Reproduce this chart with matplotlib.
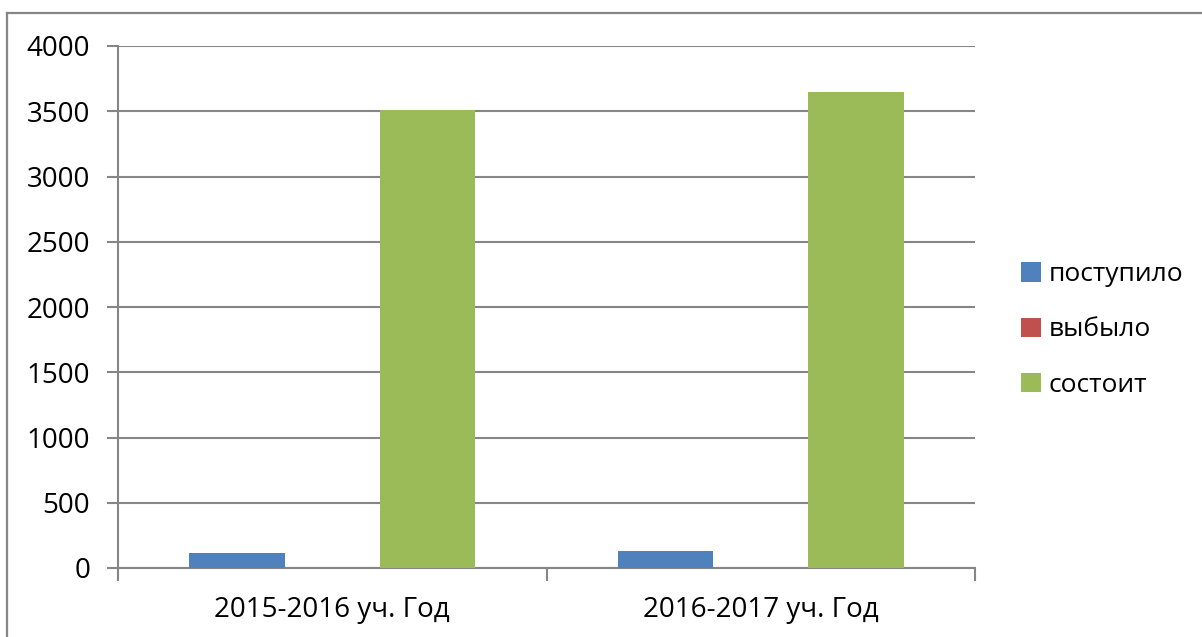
import matplotlib
matplotlib.use('Agg')
import matplotlib.pyplot as plt
from matplotlib.lines import Line2D
import numpy as np

plt.rcParams['font.family'] = ['Open Sans', 'DejaVu Sans']

categories = ["2015-2016 уч. Год", "2016-2017 уч. Год"]
series_names = ["поступило", "выбыло", "состоит"]
postupilo = [115, 130]
vybylo = [0, 0]
sostoit = [3510, 3650]
colors = ["#4F81BD", "#C0504D", "#9BBB59"]
yticks = [0, 500, 1000, 1500, 2000, 2500, 3000, 3500, 4000]

GRID = "#868686"
FS = 20

fig = plt.figure(figsize=(12.02, 6.37), dpi=100)
ax = fig.add_axes([118 / 1202, 1 - 568 / 637, (975 - 118) / 1202, (568 - 46) / 637])

x = np.arange(len(categories))
width = 1 / 4.5
for i, (name, vals) in enumerate(zip(series_names, [postupilo, vybylo, sostoit])):
    ax.bar(x + (i - 1) * width, vals, width, color=colors[i], label=name, zorder=3)

ax.set_xlim(-0.5, len(categories) - 0.5)
ax.set_ylim(0, 4000)
ax.set_yticks(yticks)
ax.set_yticklabels([str(v) for v in yticks], fontsize=FS)
ax.yaxis.grid(True, color=GRID, linewidth=1.5, zorder=0)

# category labels centred, tick marks on the boundaries
ax.set_xticks(x)
ax.set_xticklabels(categories, fontsize=FS)
ax.tick_params(axis='x', length=0, pad=20)
ax.set_xticks(np.arange(-0.5, len(categories)), minor=True)
ax.tick_params(axis='x', which='minor', length=9, width=1.5, color=GRID, direction='out')
ax.tick_params(axis='y', length=8, width=1.5, color=GRID, direction='out', pad=12)

for side in ['top', 'right']:
    ax.spines[side].set_visible(False)
for side in ['left', 'bottom']:
    ax.spines[side].set_color(GRID)
    ax.spines[side].set_linewidth(1.5)

ax.legend(loc='center left', bbox_to_anchor=(997 / 1202, 1 - 330 / 637),
          bbox_transform=fig.transFigure, frameon=False, fontsize=19,
          handlelength=0.75, handleheight=0.75, handletextpad=0.3,
          labelspacing=1.15)

# outer chart border (top and left visible)
fig.add_artist(Line2D([7 / 1202, 1.0], [1 - 13 / 637, 1 - 13 / 637], color=GRID, linewidth=1.6))
fig.add_artist(Line2D([7 / 1202, 7 / 1202], [0.0, 1 - 13 / 637], color=GRID, linewidth=1.6))

fig.savefig("out.png", dpi=100)
